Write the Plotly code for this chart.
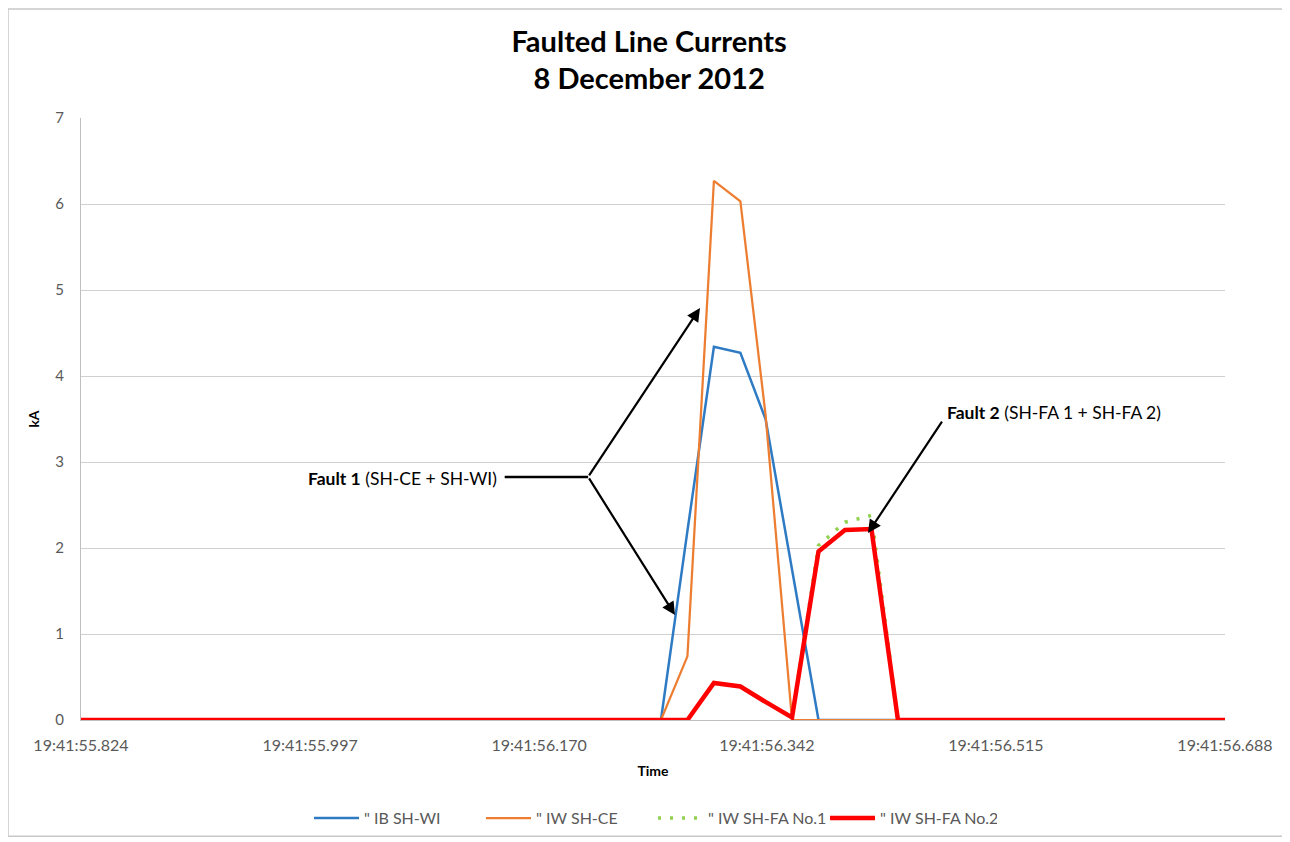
import plotly.graph_objects as go

# Sample times (seconds after 19:41)
times = [55.824, 55.844, 55.864, 55.884, 55.904, 55.924, 55.943, 55.963, 55.983, 56.003,
         56.023, 56.043, 56.063, 56.083, 56.103, 56.123, 56.142, 56.162, 56.182, 56.202,
         56.222, 56.242, 56.262, 56.282, 56.302, 56.322, 56.341, 56.361, 56.381, 56.401,
         56.421, 56.441, 56.461, 56.481, 56.501, 56.521, 56.540, 56.560, 56.580, 56.600,
         56.620, 56.640, 56.660, 56.680, 56.688]

_z22 = [0.0] * 22
_z13 = [0.0] * 13
ib_sh_wi = _z22 + [0.0, 2.2, 4.34, 4.27, 3.5, 1.75, 0.0, 0.0, 0.0, 0.0] + _z13
iw_sh_ce = _z22 + [0.0, 0.74, 6.27, 6.03, 3.55, 0.0, 0.0, 0.0, 0.0, 0.0] + _z13
iw_sh_fa1 = _z22 + [0.0, 0.0, 0.43, 0.39, 0.21, 0.03, 2.03, 2.3, 2.38, 0.0] + _z13
iw_sh_fa2 = _z22 + [0.0, 0.0, 0.43, 0.39, 0.21, 0.03, 1.96, 2.21, 2.22, 0.0] + _z13

series_names = ['" IB SH-WI', '" IW SH-CE', '" IW SH-FA No.1', '" IW SH-FA No.2']

tick_vals = [55.824, 55.997, 56.170, 56.342, 56.515, 56.688]
tick_text = ["19:41:55.824", "19:41:55.997", "19:41:56.170",
             "19:41:56.342", "19:41:56.515", "19:41:56.688"]

FONT = "Lato, 'Open Sans', sans-serif"

fig = go.Figure()
fig.add_trace(go.Scatter(x=times, y=ib_sh_wi, mode="lines", name=series_names[0],
                         line=dict(color="#2E7BC4", width=2.5)))
fig.add_trace(go.Scatter(x=times, y=iw_sh_ce, mode="lines", name=series_names[1],
                         line=dict(color="#ED7D31", width=2.25)))
fig.add_trace(go.Scatter(x=times, y=iw_sh_fa1, mode="lines", name=series_names[2],
                         line=dict(color="#92D050", width=3.5, dash="3px,9px")))
fig.add_trace(go.Scatter(x=times, y=iw_sh_fa2, mode="lines", name=series_names[3],
                         line=dict(color="#FF0000", width=4.5)))

fig.update_layout(
    width=1290, height=842,
    margin=dict(l=73, r=73, t=110, b=130),
    paper_bgcolor="white", plot_bgcolor="white",
    font=dict(family=FONT, color="#595959", size=13),
    title=dict(text="<b>Faulted Line Currents<br>8 December 2012</b>",
               x=0.497, xanchor="center", y=0.948, yanchor="middle",
               font=dict(size=29, color="#000000", family=FONT)),
    showlegend=True,
    legend=dict(orientation="h", x=0.5, xanchor="center", y=-0.163, yanchor="middle",
                font=dict(size=16, color="#595959"), itemwidth=45,
                entrywidth=112, entrywidthmode="pixels",
                tracegroupgap=0),
    xaxis=dict(range=[55.824, 56.688], tickvals=tick_vals, ticktext=tick_text,
               showgrid=False, showline=True, linecolor="#BFBFBF", linewidth=1,
               zeroline=False, ticks="", ticklabelstandoff=11,
               tickfont=dict(size=16, color="#595959"),
               title=dict(text="<b>Time</b>", font=dict(size=14, color="#000000"), standoff=12)),
    yaxis=dict(range=[0, 7], dtick=1, showgrid=True, gridcolor="#D0D0D0", gridwidth=1,
               showline=True, linecolor="#BFBFBF", zeroline=False, ticks="",
               ticklabelstandoff=13,
               tickfont=dict(size=15, color="#595959"),
               title=dict(text="<b>kA</b>", font=dict(size=14, color="#000000"), standoff=12)),
)

# outer chart border
fig.add_shape(type="rect", xref="paper", yref="paper",
              x0=-0.0638, x1=1.0507, y0=-0.193, y1=1.181,
              line=dict(color="#C8C8C8", width=1.5), fillcolor="rgba(0,0,0,0)", layer="below")

# Fault 1 annotation
fig.add_shape(type="line", xref="x", yref="y", x0=56.144, y0=2.826, x1=56.207, y1=2.826,
              line=dict(color="black", width=2.5))
for hx, hy in [(56.2915, 4.79), (56.2726, 1.22)]:
    fig.add_annotation(x=hx, y=hy, ax=56.207, ay=2.826, xref="x", yref="y",
                       axref="x", ayref="y", text="", showarrow=True,
                       arrowhead=2, arrowsize=1.2, arrowwidth=2.2, arrowcolor="black")
fig.add_annotation(x=56.067, y=2.81, xref="x", yref="y", showarrow=False,
                   text="<b>Fault 1</b> (SH-CE + SH-WI)",
                   font=dict(size=17.5, color="#000000", family=FONT))

# Fault 2 annotation
fig.add_annotation(x=56.4184, y=2.174, ax=56.475, ay=3.488, xref="x", yref="y",
                   axref="x", ayref="y", text="", showarrow=True,
                   arrowhead=2, arrowsize=1.2, arrowwidth=2.2, arrowcolor="black")
fig.add_annotation(x=56.4765, y=3.57, xref="x", yref="y", showarrow=False,
                   xanchor="left", text="<b>Fault 2</b> (SH-FA 1 + SH-FA 2)",
                   font=dict(size=17.5, color="#000000", family=FONT))

fig.write_html("out.html")
